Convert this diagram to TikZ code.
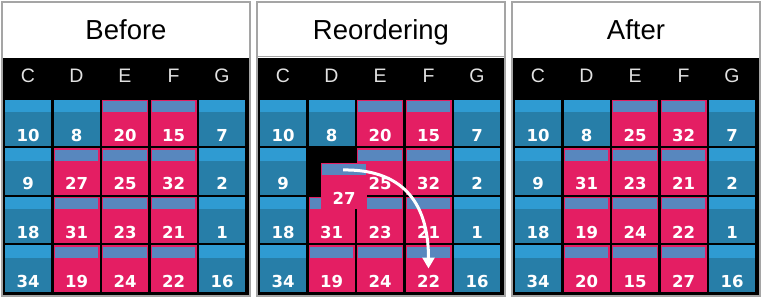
\documentclass[tikz,border=0pt]{standalone}
\usepackage{fontspec}
\setmainfont{Liberation Sans}
\newfontfamily\numfont{DejaVu Sans}
\usetikzlibrary{arrows.meta}
\definecolor{bluedark}{RGB}{39,126,168}
\definecolor{bluelight}{RGB}{47,155,210}
\definecolor{pinkcell}{RGB}{228,30,99}
\definecolor{pinkstripe}{RGB}{88,135,190}
\definecolor{hdrgray}{RGB}{225,225,225}
\definecolor{framegray}{RGB}{165,165,165}
\tikzset{
  cellb/.style={fill=bluedark, draw=none, anchor=north west, minimum width=46pt, minimum height=46.5pt, inner sep=0pt, outer sep=0pt},
  cellp/.style={fill=pinkcell, draw=none, anchor=north west, minimum width=46pt, minimum height=46.5pt, inner sep=0pt, outer sep=0pt},
  numtxt/.style={text=white, font=\numfont\bfseries\fontsize{16.5}{18}\selectfont, inner sep=0pt, anchor=base},
  hdr/.style={text=hdrgray, font=\fontsize{19.5}{21}\selectfont, inner sep=0pt, anchor=base},
  ttl/.style={text=black, font=\fontsize{27.5}{30}\selectfont, inner sep=0pt, anchor=base},
  frame/.style={draw=framegray, line width=1.5pt, fill=white},
  board/.style={fill=black},
  arrowline/.style={draw=white, line width=3pt, -{Triangle[width=12pt,length=11pt]}}
}
\newcommand\bcell[4]{%
  \node[cellb] (#1) at (#2,#3) {};
  \fill[bluelight] (#1.north west) rectangle ([yshift=-12.5pt]#1.north east);
  \node[numtxt] at ([yshift=-41.5pt]#1.north) {#4};}
\newcommand\pcell[4]{%
  \node[cellp] (#1) at (#2,#3) {};
  \fill[pinkstripe] ([xshift=1.3pt,yshift=-1.5pt]#1.north west) rectangle ([xshift=-1.3pt,yshift=-12.5pt]#1.north east);
  \node[numtxt] at ([yshift=-41.5pt]#1.north) {#4};}
% #1 prefix, #2 x offset, #3 row, #4..#8 numbers, #9 type (b/p) of column D
\newcommand\crow[9]{%
  \pgfmathsetmacro\ry{100+(#3-1)*48.5}
  \bcell{#1-#3-1}{#2+5}{\ry}{#4}
  \csname #9cell\endcsname{#1-#3-2}{#2+53.5}{\ry}{#5}
  \pcell{#1-#3-3}{#2+102}{\ry}{#6}
  \pcell{#1-#3-4}{#2+150.5}{\ry}{#7}
  \bcell{#1-#3-5}{#2+199}{\ry}{#8}}
\begin{document}
\begin{tikzpicture}[x=1pt,y=-1pt]
\useasboundingbox (0,0) rectangle (763,299);
\foreach \ox/\pn/\ttext in {0/a/Before,255/b/Reordering,510/c/After}{
  \draw[frame] (\ox+2,2) rectangle (\ox+250,296);
  \fill[board] (\ox+3,58.5) rectangle (\ox+249,295.2);
  \node[ttl] (\pn-title) at (\ox+126,40) {\ttext};
  \foreach \L [count=\c] in {C,D,E,F,G}{
    \node[hdr] (\pn-h\L) at (\ox+28+\c*48.5-48.5,83) {\L};
  }
}
\draw[framegray, line width=1pt] (257,56.5) -- (505,56.5);
% Before
\crow{a}{0}{1}{10}{8}{20}{15}{7}{b}
\crow{a}{0}{2}{9}{27}{25}{32}{2}{p}
\crow{a}{0}{3}{18}{31}{23}{21}{1}{p}
\crow{a}{0}{4}{34}{19}{24}{22}{16}{p}
% Reordering
\crow{b}{255}{1}{10}{8}{20}{15}{7}{b}
\bcell{b-2-1}{260}{148.5}{9}
\pcell{b-2-3}{357}{148.5}{25}
\pcell{b-2-4}{405.5}{148.5}{32}
\bcell{b-2-5}{454}{148.5}{2}
\crow{b}{255}{3}{18}{31}{23}{21}{1}{p}
\crow{b}{255}{4}{34}{19}{24}{22}{16}{p}
\pcell{b-27}{321}{163}{27}
\coordinate (arrstart) at ([xshift=22pt,yshift=-7pt]b-27.north west);
\coordinate (arrend) at ([yshift=-23pt]b-4-4.north);
\draw[arrowline] (arrstart) .. controls (400,169) and (428.5,200) .. (arrend);
% After
\crow{c}{510}{1}{10}{8}{25}{32}{7}{b}
\crow{c}{510}{2}{9}{31}{23}{21}{2}{p}
\crow{c}{510}{3}{18}{19}{24}{22}{1}{p}
\crow{c}{510}{4}{34}{20}{15}{27}{16}{p}
\end{tikzpicture}
\end{document}
